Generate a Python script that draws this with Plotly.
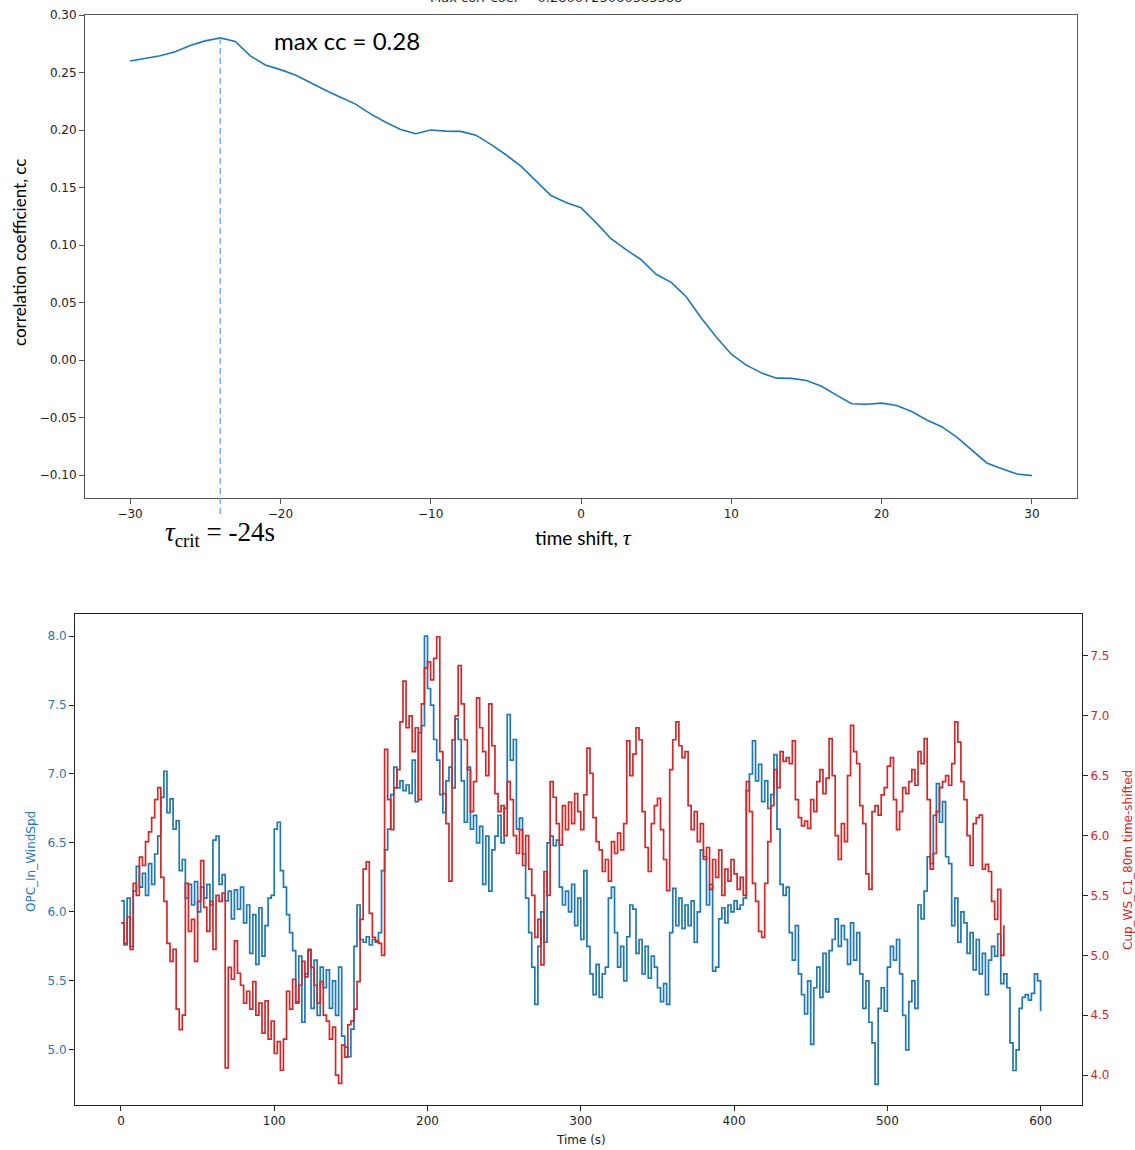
import plotly.graph_objects as go

# ---------------- data: top panel (cross-correlation vs time shift) ----------------
tau = list(range(-30, 31))
cc = [0.260, 0.262, 0.2645, 0.268, 0.2735, 0.2775, 0.2801, 0.277, 0.2645, 0.2565,
      0.2525, 0.2478, 0.241, 0.2345, 0.2285, 0.2225, 0.2140, 0.2068, 0.2005, 0.1968,
      0.2000, 0.1990, 0.1988, 0.1955, 0.1875, 0.1785, 0.1685, 0.156, 0.143, 0.137,
      0.1325, 0.1195, 0.1055, 0.096, 0.0872, 0.0745, 0.0675, 0.0550, 0.0365, 0.0200,
      0.0050, -0.0045, -0.0112, -0.0158, -0.0160, -0.0178, -0.0228, -0.0305, -0.0380, -0.0385,
      -0.0375, -0.0395, -0.0448, -0.0522, -0.0580, -0.0670, -0.0785, -0.0895, -0.0945, -0.0992,
      -0.1005]
tau_crit = -24
top_xticks = [-30, -20, -10, 0, 10, 20, 30]
top_yticks = [-0.10, -0.05, 0.00, 0.05, 0.10, 0.15, 0.20, 0.25, 0.30]

# ---------------- data: bottom panel (wind speed time series, 2 s samples) ----------------
t_opc = list(range(0, 601, 2))
opc_ws = [
    6.08, 5.76, 6.10, 5.75, 6.15, 6.33, 6.18, 6.28, 6.12, 6.35,
    6.20, 6.42, 6.55, 6.83, 7.02, 6.72, 6.82, 6.60, 6.66, 6.30,
    6.38, 6.10, 6.20, 6.05, 6.22, 6.00, 6.18, 6.10, 6.20, 6.05,
    6.52, 6.55, 6.20, 6.27, 6.08, 6.15, 5.95, 6.16, 6.02, 6.18,
    5.92, 6.05, 5.70, 5.98, 5.62, 6.03, 5.68, 5.90, 6.10, 6.12,
    6.60, 6.65, 6.30, 6.18, 5.98, 5.85, 5.72, 5.35, 5.68, 5.20,
    5.55, 5.72, 5.30, 5.65, 5.25, 5.60, 5.45, 5.58, 5.30, 5.50,
    5.25, 5.60, 5.10, 5.02, 4.95, 5.15, 5.75, 6.05, 5.80, 5.78,
    5.82, 5.76, 5.80, 5.78, 5.85, 6.30, 6.45, 6.60, 6.85, 7.05,
    6.90, 6.95, 6.88, 6.92, 6.86, 7.10, 6.80, 7.30, 7.35, 8.00,
    7.62, 7.50, 7.25, 7.10, 6.85, 6.72, 6.95, 7.05, 6.90, 7.40,
    7.25, 6.95, 6.65, 7.05, 6.60, 6.70, 6.50, 6.62, 6.20, 6.55,
    6.15, 6.45, 6.55, 6.70, 6.50, 6.75, 7.43, 7.10, 7.25, 6.60,
    6.68, 6.42, 6.10, 5.85, 5.60, 5.33, 5.75, 6.00, 5.78, 6.50,
    6.55, 6.48, 6.52, 6.18, 6.05, 6.15, 6.00, 6.20, 5.90, 6.10,
    5.80, 6.30, 5.75, 5.55, 5.40, 5.62, 5.38, 5.55, 5.60, 6.10,
    6.18, 5.85, 5.60, 5.75, 5.50, 5.82, 6.05, 6.02, 5.70, 5.80,
    5.55, 5.75, 5.52, 5.68, 5.60, 5.45, 5.35, 5.48, 5.33, 5.85,
    6.17, 5.90, 6.10, 5.88, 6.05, 5.90, 6.08, 5.78, 6.00, 6.45,
    6.40, 6.05, 6.20, 5.57, 5.60, 5.95, 6.03, 5.92, 6.05, 6.00,
    6.08, 6.02, 6.05, 6.10, 6.88, 7.00, 7.24, 6.95, 7.07, 6.80,
    6.95, 6.75, 6.85, 7.14, 6.60, 6.20, 6.12, 6.18, 5.85, 5.65,
    5.90, 5.55, 5.40, 5.26, 5.50, 5.04, 5.45, 5.60, 5.38, 5.70,
    5.42, 5.72, 5.80, 5.95, 5.75, 5.90, 5.80, 5.62, 5.92, 5.65,
    5.85, 5.55, 5.30, 5.50, 5.20, 5.05, 4.75, 5.30, 5.45, 5.28,
    5.60, 5.75, 5.65, 5.80, 5.55, 5.25, 5.00, 5.35, 5.50, 5.30,
    6.05, 5.95, 6.15, 6.40, 6.35, 6.70, 6.93, 6.65, 6.80, 6.40,
    6.35, 5.90, 6.10, 5.78, 6.00, 5.92, 5.70, 5.85, 5.58, 5.80,
    5.55, 5.70, 5.40, 5.65, 5.75, 5.68, 5.84, 5.48, 5.55, 5.45,
    5.05, 4.85, 5.00, 5.30, 5.38, 5.40, 5.36, 5.41, 5.55, 5.50,
    5.28]

t_cup = list(range(0, 577, 2))
cup_ws = [
    5.27, 5.10, 5.32, 5.05, 5.60, 5.50, 5.82, 5.75, 5.95, 6.03,
    6.15, 6.30, 6.40, 5.65, 5.45, 5.10, 4.95, 5.05, 4.55, 4.38,
    4.50, 5.60, 5.20, 5.30, 4.95, 5.45, 5.79, 5.40, 5.20, 5.45,
    5.05, 5.50, 5.45, 5.52, 4.06, 4.90, 4.80, 5.12, 4.85, 4.75,
    4.60, 4.70, 4.55, 4.78, 4.50, 4.60, 4.35, 4.62, 4.30, 4.45,
    4.18, 4.28, 4.04, 4.30, 4.70, 4.55, 4.80, 4.60, 4.75, 4.95,
    4.82, 5.05, 4.90, 4.75, 4.60, 4.78, 4.50, 4.45, 4.30, 4.40,
    4.00, 3.93, 4.25, 4.15, 4.42, 4.45, 4.55, 4.78, 5.30, 5.72,
    5.78, 5.35, 5.15, 5.12, 5.10, 5.00, 6.72, 6.30, 6.05, 6.40,
    6.55, 6.95, 7.29, 6.90, 7.00, 6.70, 6.90, 6.30, 7.10, 7.40,
    7.45, 7.30, 7.48, 7.66, 6.70, 6.35, 6.10, 5.62, 6.80, 7.00,
    7.42, 7.10, 6.80, 6.55, 6.20, 6.45, 7.15, 6.90, 6.70, 6.50,
    7.10, 6.75, 6.35, 6.20, 6.25, 6.00, 6.45, 6.30, 6.00, 5.85,
    6.05, 5.75, 6.00, 5.72, 5.50, 5.15, 5.30, 4.92, 5.70, 5.50,
    6.45, 6.32, 6.10, 5.92, 6.25, 6.05, 6.28, 6.10, 6.35, 6.20,
    6.05, 6.34, 6.73, 6.52, 6.15, 5.95, 5.88, 5.70, 5.80, 5.62,
    5.95, 5.85, 6.02, 5.88, 6.10, 6.79, 6.50, 6.68, 6.90, 6.80,
    6.20, 5.90, 5.70, 6.10, 6.25, 6.31, 6.05, 5.80, 5.54, 6.55,
    6.80, 6.95, 6.75, 6.65, 6.70, 6.25, 6.05, 6.20, 5.95, 6.10,
    5.80, 5.90, 5.55, 5.80, 5.65, 5.88, 5.50, 5.72, 5.62, 5.80,
    5.68, 5.55, 5.65, 5.50, 6.45, 6.20, 5.60, 5.45, 5.20, 5.15,
    5.60, 5.95, 6.25, 6.55, 6.40, 6.70, 6.62, 6.65, 6.60, 6.79,
    6.30, 6.15, 6.08, 6.12, 6.06, 6.30, 6.20, 6.45, 6.55, 6.35,
    6.48, 6.81, 6.50, 6.00, 5.80, 6.10, 5.95, 6.50, 6.92, 6.70,
    6.60, 6.25, 6.10, 5.68, 5.55, 6.20, 6.25, 6.17, 6.34, 6.40,
    6.58, 6.65, 6.30, 6.05, 6.20, 6.40, 6.35, 6.45, 6.55, 6.42,
    6.70, 6.60, 6.81, 6.30, 5.72, 5.85, 6.20, 6.40, 6.45, 6.50,
    6.42, 6.60, 6.95, 6.78, 6.45, 6.30, 6.00, 5.75, 6.10, 6.15,
    6.17, 5.72, 5.76, 5.70, 5.45, 5.30, 5.55, 5.00, 5.25]

bot_xticks = [0, 100, 200, 300, 400, 500, 600]
left_yticks = [5.0, 5.5, 6.0, 6.5, 7.0, 7.5, 8.0]
right_yticks = [4.0, 4.5, 5.0, 5.5, 6.0, 6.5, 7.0, 7.5]

# ---------------- styling ----------------
W, H = 1135, 1150
BLUE = "#1f77b4"
RED = "#d62728"
TICKFONT = dict(family="DejaVu Sans", size=12, color="#222222")

top_x_dom = [85 / W, 1077 / W]
top_y_dom = [1 - 498 / H, 1 - 15 / H]
bot_x_dom = [75 / W, 1082 / W]
bot_y_dom = [1 - 1105 / H, 1 - 614 / H]
top_yrange = [-0.12, 0.30]

fig = go.Figure()

fig.add_trace(go.Scatter(x=tau, y=cc, mode="lines", line=dict(color=BLUE, width=1.6),
                         xaxis="x", yaxis="y", showlegend=False, hoverinfo="skip"))
fig.add_trace(go.Scatter(x=t_opc, y=opc_ws, mode="lines", line=dict(color=BLUE, width=1.7, shape="hv"),
                         xaxis="x2", yaxis="y2", showlegend=False, hoverinfo="skip"))
fig.add_trace(go.Scatter(x=t_cup, y=cup_ws, mode="lines", line=dict(color=RED, width=1.7, shape="hv"),
                         xaxis="x2", yaxis="y3", showlegend=False, hoverinfo="skip"))

cc_max = max(cc)
tau_at_max = tau[cc.index(cc_max)]
y0_dom = (cc_max - top_yrange[0]) / (top_yrange[1] - top_yrange[0])
fig.add_shape(type="line", xref="x", yref="y domain", x0=tau_at_max, x1=tau_at_max,
              y0=y0_dom, y1=-0.04, line=dict(color="#7aaae0", width=1.4, dash="6px,4px"))

axis_common = dict(showline=True, linewidth=1, ticks="outside", ticklen=5, tickwidth=1,
                   showgrid=False, zeroline=False, tickfont=TICKFONT, automargin=False)

fig.update_layout(
    width=W, height=H, margin=dict(l=0, r=0, t=0, b=0, pad=0, autoexpand=False),
    paper_bgcolor="white", plot_bgcolor="white",
    xaxis=dict(domain=top_x_dom, anchor="y", range=[-33, 33], tickvals=top_xticks,
               mirror=True, linecolor="#555555", tickcolor="#555555", **axis_common),
    yaxis=dict(domain=top_y_dom, anchor="x", range=top_yrange, tickvals=top_yticks,
               tickformat=".2f", mirror=True, linecolor="#555555", tickcolor="#555555", **axis_common),
    xaxis2=dict(domain=bot_x_dom, anchor="y2", range=[-30, 627], tickvals=bot_xticks,
                mirror=True, linecolor="#222222", tickcolor="#222222", **axis_common),
    yaxis2=dict(domain=bot_y_dom, anchor="x2", range=[4.60, 8.16], tickvals=left_yticks,
                tickformat=".1f", linecolor="#222222", tickcolor="#222222",
                **{**axis_common, "tickfont": dict(family="DejaVu Sans", size=12, color=BLUE)}),
    yaxis3=dict(overlaying="y2", anchor="x2", side="right", range=[3.75, 7.85], tickvals=right_yticks,
                tickformat=".1f", linecolor="#222222", tickcolor="#222222",
                **{**axis_common, "tickfont": dict(family="DejaVu Sans", size=12, color=RED)}),
)

ann = []
# title that is mostly cut off at the very top of the picture
ann.append(dict(text="Max corr coef = 0.2800725060585388", xref="paper", yref="paper",
                x=556 / W, y=1 - 7 / H, xanchor="center", yanchor="bottom", showarrow=False,
                font=dict(family="DejaVu Sans", size=13, color="#222222")))
ann.append(dict(text="max cc = %.2f" % cc_max, xref="paper", yref="paper",
                x=347 / W, y=1 - 40 / H, xanchor="center", yanchor="middle", showarrow=False,
                font=dict(family="Lato", size=24, color="#000000")))
ann.append(dict(text="correlation coefficient, cc", xref="paper", yref="paper",
                x=20 / W, y=1 - 253 / H, xanchor="center", yanchor="middle", textangle=-90,
                showarrow=False, font=dict(family="Lato", size=17, color="#000000")))
ann.append(dict(text="time shift, <span style='font-family:Liberation Serif;font-size:22px'><i>τ</i></span>",
                xref="paper", yref="paper", x=583 / W, y=1 - 537 / H, xanchor="center",
                yanchor="middle", showarrow=False, font=dict(family="Lato", size=19, color="#000000")))
ann.append(dict(text="<i>τ</i><sub>crit</sub> = %ds" % tau_crit, xref="x", yref="paper",
                x=tau_crit, y=1 - 534 / H, xanchor="center", yanchor="middle", showarrow=False,
                font=dict(family="Liberation Serif", size=27, color="#000000")))
ann.append(dict(text="OPC_In_WindSpd", xref="paper", yref="paper", x=31 / W, y=1 - 862 / H,
                xanchor="center", yanchor="middle", textangle=-90, showarrow=False,
                font=dict(family="DejaVu Sans", size=12, color=BLUE)))
ann.append(dict(text="Cup_WS_C1_80m time-shifted", xref="paper", yref="paper", x=1128 / W,
                y=1 - 860 / H, xanchor="center", yanchor="middle", textangle=-90, showarrow=False,
                font=dict(family="DejaVu Sans", size=12, color=RED)))
ann.append(dict(text="Time (s)", xref="paper", yref="paper", x=581 / W, y=1 - 1140 / H,
                xanchor="center", yanchor="middle", showarrow=False,
                font=dict(family="DejaVu Sans", size=12, color="#222222")))
fig.update_layout(annotations=ann)

fig.write_html("out.html", config={"displayModeBar": False},
               post_script="document.body.style.margin='0';")
